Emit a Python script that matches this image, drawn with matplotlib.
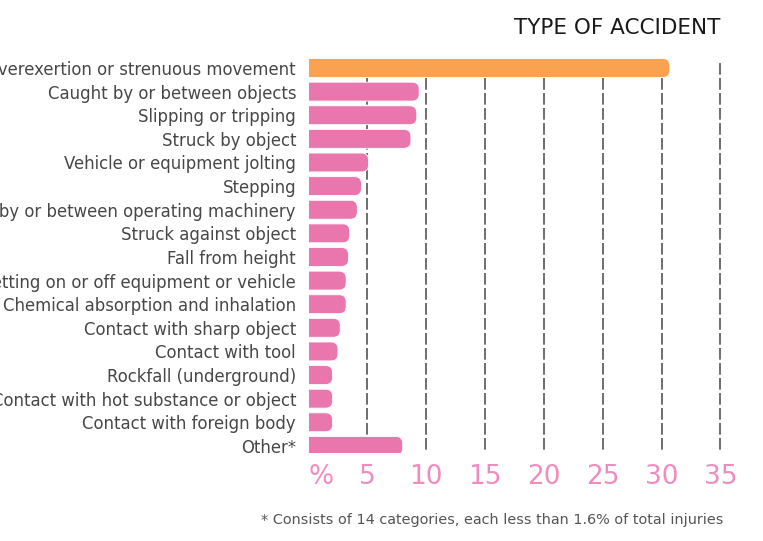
import matplotlib
matplotlib.use('Agg')
import matplotlib.pyplot as plt
from matplotlib.patches import FancyBboxPatch

# Data (percent of total injuries)
categories = ['Overexertion or strenuous movement',
              'Caught by or between objects',
              'Slipping or tripping',
              'Struck by object',
              'Vehicle or equipment jolting',
              'Stepping',
              'Caught by or between operating machinery',
              'Struck against object',
              'Fall from height',
              'Fall getting on or off equipment or vehicle',
              'Chemical absorption and inhalation',
              'Contact with sharp object',
              'Contact with tool',
              'Rockfall (underground)',
              'Contact with hot substance or object',
              'Contact with foreign body',
              'Other*']
values = [30.7, 9.4, 9.2, 8.7, 5.1, 4.5, 4.15, 3.5, 3.4, 3.2, 3.2,
          2.7, 2.5, 2.05, 2.05, 2.05, 8.0]
xticks = [0, 5, 10, 15, 20, 25, 30, 35]
xticklabels = ['%', '5', '10', '15', '20', '25', '30', '35']

orange = '#F9A350'
pink = '#E977AD'
tick_pink = '#F08CBF'
text_grey = '#474747'

plt.rcParams['font.family'] = ['DejaVu Sans']

W, H = 7.63, 5.41
row_px = 23.6
top_px, bottom_px = 68 - 0.6 * row_px, 453
fig = plt.figure(figsize=(W, H), dpi=100)
ax = fig.add_axes([308.5 / 763, (541 - bottom_px) / 541,
                   429.6 / 763, (bottom_px - top_px) / 541])

xmin, xmax = 0, 36.5
ymin, ymax = 16.3, -0.6
ax.set_xlim(xmin, xmax)
ax.set_ylim(ymin, ymax)

# dashed vertical grid lines behind the bars
ax.vlines(xticks[1:], -0.21, ymin, color='#555555', lw=1.2,
          linestyle=(0, (7, 2)), zorder=1)

# bars with rounded right end: FancyBboxPatch in data coords, corrected for aspect
px_x = (ax.get_position().width * W * 100) / (xmax - xmin)   # pixels per x unit
px_y = (ax.get_position().height * H * 100) / abs(ymin - ymax)  # pixels per y unit
aspect = px_x / px_y
bar_h = 0.8
radius = 7 / px_x
for i, (cat, v) in enumerate(zip(categories, values)):
    col = orange if i == 0 else pink
    patch = FancyBboxPatch((-2, i - bar_h / 2), v + 2, bar_h,
                           boxstyle=f'round,pad=0,rounding_size={radius}',
                           mutation_aspect=aspect,
                           facecolor=col, edgecolor='white', lw=0.6, zorder=3)
    ax.add_patch(patch)

ax.set_yticks(range(len(categories)))
ax.set_yticklabels(categories, fontsize=11.9, color=text_grey)
ax.set_xticks(xticks)
ax.set_xticklabels(xticklabels, fontsize=19, color=tick_pink)
ax.get_xticklabels()[0].set_horizontalalignment('left')
ax.tick_params(axis='y', length=0, pad=9)
ax.tick_params(axis='x', length=0, pad=8)
for s in ax.spines.values():
    s.set_visible(False)

fig.text(720 / 763, 1 - 28 / 541, 'TYPE OF ACCIDENT', ha='right', va='center',
         fontsize=15.5, color='#1a1a1a')
fig.text(723 / 763, 1 - 520 / 541,
         '* Consists of 14 categories, each less than 1.6% of total injuries',
         ha='right', va='center', fontsize=10.4, color='#555555')

fig.savefig('out.png', dpi=100)
